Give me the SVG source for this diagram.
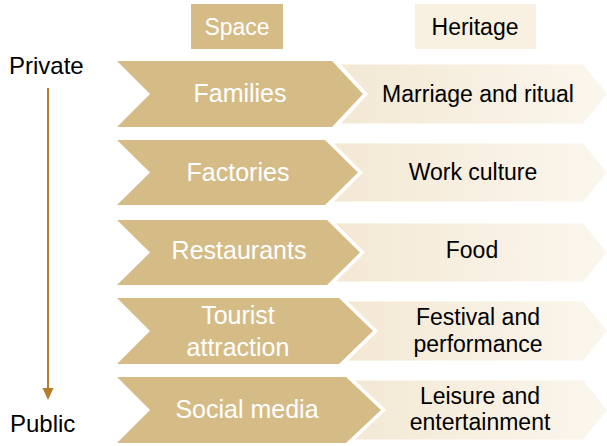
<svg xmlns="http://www.w3.org/2000/svg" width="607" height="446" viewBox="0 0 607 446">
  <style>
    .space { fill: #d5bc87; }
    .heritage { fill: url(#herGrad); }
    .hdr-space { fill: #d5bc87; }
    .hdr-her { fill: #f8f0e0; }
    text { font-family: "Liberation Sans", Arial, sans-serif; text-anchor: middle; }
    .wl { fill: #ffffff; font-size: 25px; }
    .bl { fill: #000000; font-size: 23px; }
    .hw { fill: #ffffff; font-size: 23px; }
    .hb { fill: #000000; font-size: 23px; }
    .side { fill: #000000; font-size: 24px; text-anchor: start; }
    .axis { stroke: #b67b2d; stroke-width: 2; }
    .axis-head { fill: #b67b2d; }
  </style>
  <defs>
    <linearGradient id="herGrad" x1="0" y1="0" x2="1" y2="0">
      <stop offset="0" stop-color="#f3e8d4"/>
      <stop offset="1" stop-color="#fbf6ed"/>
    </linearGradient>
  </defs>

  <!-- column headers -->
  <g id="header-space">
    <rect class="hdr-space" x="191" y="4" width="92" height="45"/>
    <text class="hw" x="237" y="35">Space</text>
  </g>
  <g id="header-heritage">
    <rect class="hdr-her" x="415" y="4" width="121" height="45"/>
    <text class="hb" x="475" y="35">Heritage</text>
  </g>

  <!-- axis labels -->
  <g id="label-private">
    <text class="side" x="9" y="74">Private</text>
  </g>
  <g id="label-public">
    <text class="side" x="10" y="432">Public</text>
  </g>

  <!-- private-to-public axis -->
  <g id="connectors">
    <line class="axis" x1="48" y1="88" x2="48" y2="388"/>
    <polygon class="axis-head" points="42.5,388 53.5,388 48,400"/>
  </g>

  <!-- row 1 -->
  <g id="space-families">
    <polygon class="space" points="117,61 332,61 363,94 332,127 117,127 150,94"/>
    <text class="wl" x="240" y="102">Families</text>
  </g>
  <g id="heritage-marriage">
    <polygon class="heritage" points="341,64.5 583,64.5 607,94 583,123.5 341,123.5 368,94"/>
    <text class="bl" x="478" y="102">Marriage and ritual</text>
  </g>

  <!-- row 2 -->
  <g id="space-factories">
    <polygon class="space" points="117,140 325,140 358,172.5 325,205 117,205 150,172.5"/>
    <text class="wl" x="238" y="181">Factories</text>
  </g>
  <g id="heritage-work">
    <polygon class="heritage" points="334,143.5 583,143.5 607,172.5 583,201.5 334,201.5 363,172.5"/>
    <text class="bl" x="473" y="180">Work culture</text>
  </g>

  <!-- row 3 -->
  <g id="space-restaurants">
    <polygon class="space" points="117,220 327,220 360,252.5 327,285 117,285 150,252.5"/>
    <text class="wl" x="239" y="259">Restaurants</text>
  </g>
  <g id="heritage-food">
    <polygon class="heritage" points="336,223.5 583,223.5 607,252.5 583,281.5 336,281.5 365,252.5"/>
    <text class="bl" x="472" y="258">Food</text>
  </g>

  <!-- row 4 -->
  <g id="space-tourist">
    <polygon class="space" points="117,298 339,298 373,331 339,364 117,364 150,331"/>
    <text class="wl" x="238" y="324">Tourist</text>
    <text class="wl" x="238" y="356">attraction</text>
  </g>
  <g id="heritage-festival">
    <polygon class="heritage" points="348,301.5 583,301.5 607,331 583,360.5 348,360.5 378,331"/>
    <text class="bl" x="478" y="325">Festival and</text>
    <text class="bl" x="478" y="352">performance</text>
  </g>

  <!-- row 5 -->
  <g id="space-social">
    <polygon class="space" points="117,377 346,377 381,410 346,443 117,443 150,410"/>
    <text class="wl" x="247" y="418">Social media</text>
  </g>
  <g id="heritage-leisure">
    <polygon class="heritage" points="355,380.5 583,380.5 607,410 583,439.5 355,439.5 386,410"/>
    <text class="bl" x="480" y="404">Leisure and</text>
    <text class="bl" x="480" y="430">entertainment</text>
  </g>
</svg>
